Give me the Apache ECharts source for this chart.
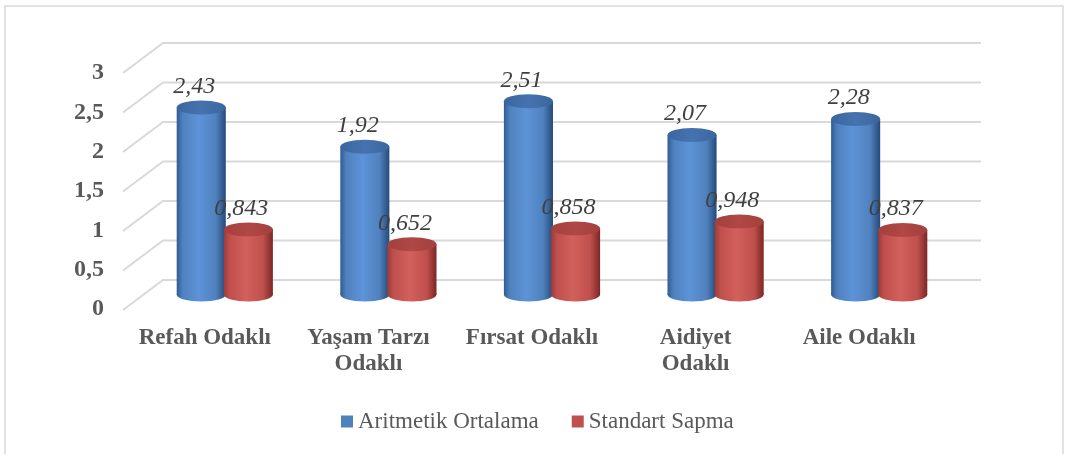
<!DOCTYPE html>
<html>
<head>
<meta charset="utf-8">
<script src="https://cdn.jsdelivr.net/npm/echarts@6/dist/echarts.min.js"></script>
<style>
  html, body { margin: 0; padding: 0; background: #fff; }
  #chart { width: 1066px; height: 454px; }
</style>
</head>
<body>
<div id="chart"></div>
<script>
// veriler
const categories = ['Refah Odaklı', 'Yaşam Tarzı\nOdaklı', 'Fırsat Odaklı', 'Aidiyet\nOdaklı', 'Aile Odaklı']
const ortalama = [2.43, 1.92, 2.51, 2.07, 2.28]
const sapma = [0.843, 0.652, 0.858, 0.948, 0.837]
const yTicks = [0, 0.5, 1, 1.5, 2, 2.5, 3]
const seriesNames = ['Aritmetik Ortalama', 'Standart Sapma']

// 3D derinlik kaydirmasi (arka duzlem -> on duzlem)
const DX = 40, DY = 30
const SERIF = '"Liberation Serif", "Times New Roman", serif'

const palette = [
  { legend: '#4f81bd', edgeL: '#2f5b93', mid: '#5d93d8', edgeR: '#244a7a', top: '#3a66a0', topHi: '#4673af' },
  { legend: '#c0504d', edgeL: '#9c3a37', mid: '#d2605d', edgeR: '#7a2725', top: '#a3403d', topHi: '#b04845' }
]

function fmt(v) {
  return String(v).replace('.', ',')
}

// silindir cizimi
function cylinder(idx) {
  const c = palette[idx]
  return function (params, api) {
    const base = api.coord([api.value(0), 0])
    const top = api.coord([api.value(0), api.value(1)])
    const band = api.size([1, 0])[0]
    const w = band * 0.3
    const cx = base[0] + band * 0.144 * (idx === 0 ? -1 : 1)
    const rx = w / 2
    const ry = 7
    const bodyFill = new echarts.graphic.LinearGradient(0, 0, 1, 0, [
      { offset: 0, color: c.edgeL },
      { offset: 0.12, color: c.legend },
      { offset: 0.45, color: c.mid },
      { offset: 0.8, color: c.legend },
      { offset: 1, color: c.edgeR }
    ])
    return {
      type: 'group',
      children: [
        { type: 'ellipse', shape: { cx: cx, cy: base[1], rx: rx, ry: ry }, style: { fill: bodyFill } },
        { type: 'rect', shape: { x: cx - rx, y: top[1], width: w, height: base[1] - top[1] }, style: { fill: bodyFill } },
        {
          type: 'ellipse',
          shape: { cx: cx, cy: top[1], rx: rx, ry: ry },
          style: {
            fill: new echarts.graphic.LinearGradient(0, 0, 1, 0, [
              { offset: 0, color: c.top },
              { offset: 0.5, color: c.topHi },
              { offset: 1, color: c.top }
            ])
          }
        },
        {
          type: 'text',
          style: {
            text: fmt(api.value(1)),
            x: cx - 7,
            y: top[1] - ry - 2,
            align: 'center',
            verticalAlign: 'bottom',
            font: 'italic 24px ' + SERIF,
            fill: '#404040'
          }
        }
      ]
    }
  }
}

// arka duvar ve zemin cizgileri
function walls(params, api) {
  const y = api.coord([0, api.value(0)])[1]
  const L = params.coordSys.x
  const R = params.coordSys.x + params.coordSys.width
  return {
    type: 'polyline',
    shape: { points: [[L - DX, y + DY], [L, y], [R, y]] },
    style: { stroke: '#d9d9d9', lineWidth: 2, fill: null },
    silent: true
  }
}

const myChart = echarts.init(document.getElementById('chart'))

const option = {
  animation: false,
  backgroundColor: '#fff',
  graphic: [{
    type: 'rect',
    shape: { x: 5, y: 6, width: 1058, height: 460 },
    style: { fill: null, stroke: '#d9d9d9', lineWidth: 1.5 },
    silent: true
  }],
  legend: {
    left: 336,
    top: 405,
    icon: 'rect',
    itemWidth: 12,
    itemHeight: 12,
    itemGap: 33,
    itemTextGap: 5,
    data: seriesNames,
    textStyle: { fontFamily: SERIF, fontSize: 23, color: '#595959' }
  },
  grid: [
    // orta duzlem (silindirler)
    { left: 143, right: 105, top: 63.5, bottom: 159.5 },
    // on duzlem (eksen etiketleri)
    { left: 123, right: 125, top: 73, bottom: 145 },
    // arka duzlem (izgara)
    { left: 163, right: 85, top: 43, bottom: 174 }
  ],
  xAxis: [
    { gridIndex: 0, type: 'category', data: categories, show: false },
    {
      gridIndex: 1, type: 'category', data: categories,
      axisLine: { show: false }, axisTick: { show: false },
      axisLabel: {
        margin: 16, interval: 0,
        fontFamily: SERIF, fontWeight: 'bold', fontSize: 23, lineHeight: 26, color: '#595959'
      }
    },
    { gridIndex: 2, type: 'category', data: categories, show: false }
  ],
  yAxis: [
    { gridIndex: 0, type: 'value', min: 0, max: 3, interval: 0.5, show: false },
    {
      gridIndex: 1, type: 'value', min: 0, max: 3, interval: 0.5,
      axisLine: { show: false }, axisTick: { show: false }, splitLine: { show: false },
      axisLabel: {
        margin: 19, formatter: fmt,
        fontFamily: SERIF, fontWeight: 'bold', fontSize: 24, color: '#595959'
      }
    },
    { gridIndex: 2, type: 'value', min: 0, max: 3, interval: 0.5, show: false }
  ],
  series: [
    {
      type: 'custom', name: 'walls', xAxisIndex: 2, yAxisIndex: 2,
      renderItem: walls, data: yTicks.map(v => [v]), z: 1, silent: true
    },
    {
      type: 'custom', name: seriesNames[0], xAxisIndex: 0, yAxisIndex: 0,
      itemStyle: { color: palette[0].legend },
      renderItem: cylinder(0), data: ortalama.map((v, i) => [i, v]), z: 2
    },
    {
      type: 'custom', name: seriesNames[1], xAxisIndex: 0, yAxisIndex: 0,
      itemStyle: { color: palette[1].legend },
      renderItem: cylinder(1), data: sapma.map((v, i) => [i, v]), z: 3
    }
  ]
}

myChart.setOption(option)
window.addEventListener('resize', function () {
  myChart.resize()
})
</script>
</body>
</html>
